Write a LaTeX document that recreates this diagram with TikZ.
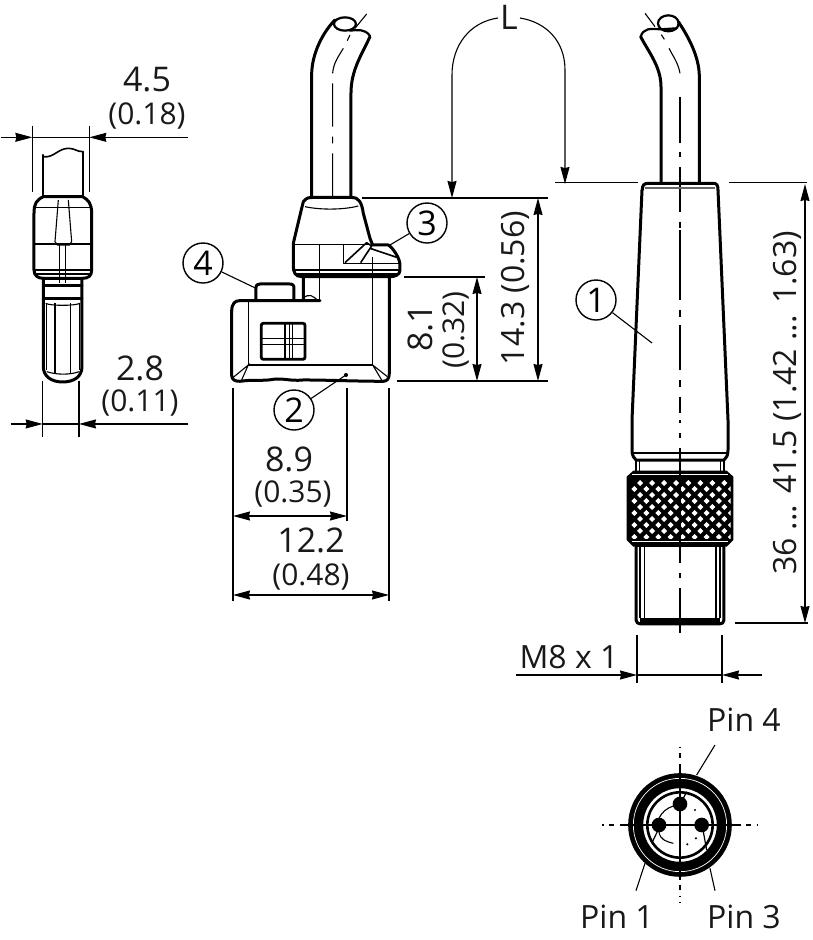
\documentclass[tikz,border=0pt]{standalone}
\usepackage{fontspec}
\setmainfont{Open Sans}
\usetikzlibrary{arrows.meta,calc}
\tikzset{
 thick line/.style={line width=3pt,line join=round,line cap=round},
 mid line/.style={line width=1.6pt,line join=round},
 thin line/.style={line width=1.1pt},
 dimline/.style={line width=1.1pt},
 dimarrow/.style={line width=1.1pt,-{Stealth[length=17pt,width=9pt,inset=1pt]}},
 bothtips/.style={line width=1.1pt,{Stealth[length=17pt,width=9pt,inset=1pt]}-{Stealth[length=17pt,width=9pt,inset=1pt]}},
 big/.style={font=\fontsize{34}{36}\selectfont,inner sep=0pt,text=black!90},
 small/.style={font=\fontsize{30}{32}\selectfont,inner sep=0pt,text=black!90},
 label/.style={font=\fontsize{32}{34}\selectfont,inner sep=0pt,text=black!90},
 callout/.style={circle,draw,line width=1.4pt,minimum size=40pt,inner sep=0pt,font=\fontsize{34}{34}\selectfont},
 zoomA/.style={shift={(0pt,-60pt)},x=0.3333pt,y=-0.3333pt},
 zoomB/.style={shift={(170pt,0pt)},x=0.3333pt,y=-0.3333pt},
 zoomC/.style={shift={(600pt,0pt)},x=0.3333pt,y=-0.3333pt},
 zoomD/.style={shift={(600pt,-420pt)},x=0.3333pt,y=-0.3333pt},
 zoomE/.style={shift={(570pt,-700pt)},x=0.3333pt,y=-0.3333pt},
}
\begin{document}
\begin{tikzpicture}[x=1pt,y=-1pt]
\useasboundingbox (0,0) rectangle (813,940);
% ---------- left view
\begin{scope}[zoomA]
\draw[thick line,line width=2.2pt] (130,285)--(130,410) (248,275)--(248,410);
\draw[mid line] (130,290) .. controls (160,295) and (175,265) .. (205,265) .. controls (225,265) and (230,275) .. (248,275);
\draw[thick line] (130,410) .. controls (110,420) and (102,430) .. (102,460) -- (102,630) .. controls (102,648) and (115,655) .. (130,655) -- (248,655) .. controls (265,655) and (275,648) .. (275,630) -- (275,460) .. controls (275,430) and (265,420) .. (248,410) -- cycle;
\draw[thin line] (102,442)--(275,442) (102,552)--(275,552);
\draw[mid line] (102,630)--(275,630) (102,642)--(275,642);
\draw[thin line] (175,420)--(165,545) -- (172,555) -- (208,555) -- (215,545) -- (205,420);
\draw[thin line] (178,555)--(178,670) (197,555)--(197,670);
\draw[thick line] (130,655)--(130,920) .. controls (130,950) and (155,966) .. (188,966) .. controls (222,966) and (246,950) .. (246,920) -- (246,655);
\draw[thick line] (130,676)--(246,676) (130,715)--(246,715);
\draw[thin line] (137,730) .. controls (150,738) and (225,738) .. (240,730);
\draw[thin line] (140,730)--(140,930) (165,730)--(165,940) (212,730)--(212,940) (238,730)--(238,930);
\draw[thin line] (140,935) .. controls (170,945) and (210,945) .. (238,935);
\coordinate (a1) at (97,232); \coordinate (a2) at (268,232);
\coordinate (a1s) at (3,232); \coordinate (a2s) at (565,232);
\coordinate (a1t) at (97,197); \coordinate (a1b) at (97,397);
\coordinate (a2t) at (268,197); \coordinate (a2b) at (268,397);
\coordinate (b1) at (128,1092); \coordinate (b2) at (237,1092);
\coordinate (b1s) at (32,1092); \coordinate (b2s) at (565,1092);
\coordinate (b1t) at (128,962); \coordinate (b1b) at (128,1130);
\coordinate (b2t) at (237,962); \coordinate (b2b) at (237,1130);
\end{scope}
\draw[dimline] (a1t)--(a1b) (a2t)--(a2b) (b1t)--(b1b) (b2t)--(b2b) (a1)--(a2) (b1)--(b2);
\draw[dimarrow] (a1s)--(a1); \draw[dimarrow] (a2s)--(a2);
\draw[dimarrow] (b1s)--(b1); \draw[dimarrow] (b2s)--(b2);
\node[big] (t45) at (147,80) {4.5};
\node[small] (t018) at (147,116) {(0.18)};
\node[big] (t28) at (140,368) {2.8};
\node[small] (t011) at (140,403) {(0.11)};
% ---------- middle view
\begin{scope}[zoomB]
\draw[thick line] (425,590)--(425,225) .. controls (425,160) and (460,95) .. (495,60);
\draw[thick line] (543,590)--(543,280) .. controls (543,210) and (575,165) .. (600,110);
\draw[mid line,line width=2.2pt] (525,72) ellipse [x radius=33,y radius=20];
\draw[thick line,line width=2.2pt] (540,92) .. controls (560,90) and (585,85) .. (600,108);
\draw[thin line] (555,85)--(590,42);
\draw[line width=1.1pt] (488,250)--(488,380) (488,410)--(488,430) (488,460)--(488,590) (488,220) .. controls (490,190) and (505,170) .. (520,145) (532,122)--(540,105);
\draw[thick line] (400,605) .. controls (410,592) and (420,592) .. (430,592) -- (545,592) .. controls (565,592) and (575,605) .. (580,640) -- (600,715) -- (608,735) -- (655,735) .. controls (670,745) and (690,775) .. (690,795) -- (690,810) .. controls (690,825) and (675,830) .. (660,830) -- (395,830) .. controls (375,830) and (370,815) .. (370,800) -- (370,730) -- (395,625) -- cycle;
\draw[thin line] (405,620) .. controls (450,630) and (520,630) .. (565,618);
\draw[mid line] (370,733)--(600,733);
\draw[mid line] (375,810)--(688,810) (380,822)--(688,822);
\draw[mid line] (448,733)--(448,905);
\draw[mid line] (520,735)--(520,790)--(690,790);
\draw[mid line] (525,788)--(590,728)--(605,738)--(572,788);
\draw[mid line] (600,745)--(680,772);
\draw[thin line] (608,770)--(608,1095);
% lower body
\draw[thick line] (400,830)--(400,900) (185,935) .. controls (185,910) and (195,902) .. (210,902) -- (450,902);
\draw[thick line] (185,935)--(185,1125) .. controls (185,1140) and (195,1144) .. (210,1144) .. controls (250,1138) and (280,1144) .. (310,1138) .. controls (340,1134) and (360,1144) .. (400,1140) .. controls (470,1140) and (560,1144) .. (640,1144) .. controls (652,1144) and (658,1135) .. (658,1120) -- (658,830);
\draw[thin line] (235,905)--(235,1095)--(608,1095);
\draw[thin line] (190,1132)--(235,1095)--(215,1140) (608,1095)--(635,1140) (608,1095)--(652,1130);
\draw[thick line] (258,900)--(258,865) .. controls (258,855) and (262,852) .. (270,852) -- (358,852) .. controls (368,852) and (372,855) .. (372,865) -- (372,900);
\draw[thin line] (400,895) .. controls (415,880) and (430,885) .. (445,905);
\draw[line width=2.8pt,rounded corners=2pt] (274,970) rectangle (405,1078);
\draw[line width=1.5pt] (274,1016)--(405,1016);
\draw[line width=1.5pt] (274,1033)--(405,1033);
\draw[line width=1.5pt] (345,970)--(345,1078) (358,970)--(358,1078) (368,970)--(368,1078);
\fill (528,1125) circle (6);
\coordinate (c4) at (258,865);
\coordinate (c3a) at (660,735);
\coordinate (c2) at (528,1125);
\end{scope}
\coordinate (c1) at (652,343);
\node[callout] (n4) at (203,263) {4};
\node[callout] (n3) at (427,223) {3};
\node[callout] (n2) at (294,410) {2};
\node[callout] (n1) at (596,300) {1};
\draw[thin line] (n4)--(c4);
\draw[thin line] (n3)--(c3a);
\draw[thin line] (n2)--(c2);
\draw[thin line] (n1)--(c1);
% dims mid
\coordinate (d1) at (362,198); \coordinate (d1e) at (548,198);
\coordinate (d2) at (404,277); \coordinate (d2e) at (485,277);
\coordinate (d3) at (397,381); \coordinate (d3e) at (548,381);
\draw[dimline] (d1)--(d1e) (d2)--(d2e) (d3)--(d3e);
\coordinate (e1) at (477,277); \coordinate (e2) at (477,381);
\coordinate (f1) at (538,198); \coordinate (f2) at (538,381);
\draw[bothtips] (e1)--(e2);
\draw[bothtips] (f1)--(f2);
\node[big,rotate=90] (t81) at (420,328) {8.1};
\node[small,rotate=90] (t032) at (456,330) {(0.32)};
\node[label,rotate=90] (t143) at (515,288) {14.3 (0.56)};
\coordinate (g1) at (233,516); \coordinate (g2) at (347,516);
\coordinate (h1) at (233,595); \coordinate (h2) at (389,595);
\draw[dimline] (233,388)--(233,601) (347,388)--(347,521) (389,388)--(389,601);
\draw[bothtips] (g1)--(g2);
\draw[bothtips] (h1)--(h2);
\node[big] (t89) at (289,459) {8.9};
\node[small] (t035) at (293,494) {(0.35)};
\node[big] (t122) at (311,540) {12.2};
\node[small] (t048) at (311,577) {(0.48)};
% L
\node[big] (tL) at (509,17) {L};
\coordinate (L1) at (452,198); \coordinate (L2) at (565,184);
\draw[dimarrow] (tL.west) ++(-2,1) .. controls (470,22) and (452,45) .. (452,75) -- (L1);
\draw[dimarrow] (tL.east) ++(2,1) .. controls (545,22) and (565,40) .. (565,70) -- (L2);
% ---------- right view
\begin{scope}[zoomC]
\draw[thick line] (183,548)--(183,260) .. controls (183,200) and (145,155) .. (122,110);
\draw[thick line] (298,548)--(298,230) .. controls (298,170) and (265,110) .. (235,65);
\draw[mid line,line width=2.2pt] (205,70) ellipse [x radius=31,y radius=24];
\draw[thick line,line width=2.2pt] (122,110) .. controls (130,85) and (150,85) .. (180,88) -- (230,85);
\draw[thin line] (165,80)--(135,40);
\draw[line width=1.1pt] (240,220) .. controls (235,190) and (220,170) .. (207,145) (193,118)--(184,104);
\draw[line width=1.1pt] (240,292)--(240,428) (240,455)--(240,472) (240,502)--(240,636) (240,665)--(240,685) (240,712)--(240,848) (240,878)--(240,892);
\draw[thick line] (127,570) .. controls (127,555) and (132,550) .. (145,550) -- (340,550) .. controls (350,550) and (354,555) .. (354,570);
\draw[thin line,black!60] (135,564)--(345,564);
\draw[dimline] (-135,548)--(115,548) (387,548)--(620,548);
\end{scope}
\begin{scope}[zoomD]
\draw[line width=1.1pt] (240,-570)--(240,-520) (240,-490)--(240,-360) (240,-330)--(240,-310) (240,-285)--(240,-150) (240,-120)--(240,-100) (240,-70)--(240,-20) (240,0)--(240,10) (240,40)--(240,55) (240,85)--(240,430);
\end{scope}
\draw[thick line] (642,190)--(632,420)--(632,450) .. controls (632,456) and (634,458) .. (636,460) -- (724,460) .. controls (726,458) and (728,456) .. (728,450) -- (728,420) -- (718,190);
\draw[mid line] (632,453)--(728,453);
\begin{scope}[zoomD]
\draw[mid line] (108,120)--(108,155) (118,120)--(118,155) (362,120)--(362,155) (372,120)--(372,155);
\draw[mid line] (108,122)--(372,122);
% knurl
\fill[black] (100,152) -- (380,152) -- (400,170) -- (400,360) -- (380,380) -- (100,380) -- (80,360) -- (80,170) -- cycle;
\begin{scope}
\clip (92,178) rectangle (392,356);
\foreach \r in {0,2,4,6,8}{
 \foreach \c in {0,...,8}{
  \fill[white] ({120+\c*36.2},{189+\r*18-9}) -- ++(9,9) -- ++(-9,9) -- ++(-9,-9) -- cycle;
  \fill[white] ({103+\c*36.2},{207+\r*18-9}) -- ++(9,9) -- ++(-9,9) -- ++(-9,-9) -- cycle;
 }
}
\end{scope}
\draw[white,line width=0.7pt] (95,364)--(385,364) (95,163)--(385,163);
\draw[line width=1.1pt,black] (240,85)--(240,380);
% lower
\draw[thick line] (108,372)--(108,600) .. controls (108,608) and (115,612) .. (122,612) -- (358,612) .. controls (366,612) and (372,608) .. (372,600) -- (372,372);
\draw[mid line] (120,380)--(120,595) (133,380)--(133,595) (348,380)--(348,595) (360,380)--(360,595);
\draw[line width=5pt] (120,603)--(360,603);
\draw[mid line] (108,380)--(372,380);
\draw[line width=1.1pt] (240,380)--(240,430) (240,460)--(240,475) (240,505)--(240,640);
\end{scope}
% right dims
\coordinate (k1) at (805,184); \coordinate (k2) at (805,623);
\draw[dimline] (735,623)--(808,623);
\draw[bothtips] (k1)--(k2);
\node[label,rotate=90] (t36) at (787,403) {36 ... 41.5 (1.42 ... 1.63)};
\coordinate (m1) at (637,675); \coordinate (m2) at (722,675);
\coordinate (m1s) at (516,675); \coordinate (m2s) at (762,675);
\draw[dimline] (637,635)--(637,683) (722,635)--(722,683) (m1)--(m2);
\draw[dimarrow] (m1s)--(m1); \draw[dimarrow] (m2s)--(m2);
\node[label] (tm8) at (569,657) {M8 x 1};
% ---------- pin face
\begin{scope}[zoomE]
\draw[line width=15pt,black] (330,375) circle (133);
\draw[white,line width=0.7pt] (330,375) circle (140);
\draw[line width=2.6pt] (330,375) circle (98);
\draw[line width=1.2pt] (150,375)--(510,375) (330,195)--(330,535);
\draw[line width=1.2pt,dash pattern=on 1.5pt off 5pt on 5pt off 6pt] (97,375)--(150,375) (510,375)--(565,375) (330,140)--(330,195) (330,535)--(330,610);
\draw[line width=1.1pt] (265,360) .. controls (275,335) and (290,325) .. (310,318);
\draw[line width=1.1pt] (267,395) .. controls (270,420) and (290,425) .. (310,430);
\fill (375,330) circle (3.5) (378,415) circle (3.5) (352,433) circle (3.5);
\fill (330,312) circle (22) (267,375) circle (22) (395,375) circle (22);
\coordinate (p4a) at (435,135); \coordinate (p4b) at (380,225);
\coordinate (p1a) at (198,572); \coordinate (p1b) at (225,490);
\coordinate (p3a) at (435,572); \coordinate (p3b) at (420,505);
\draw[line width=1.2pt] (245,430)--(262,395) (410,450)--(400,395) (350,275)--(340,295);
\end{scope}
\draw[thin line] (p4a)--(p4b) (p1a)--(p1b) (p3a)--(p3b);
\node[label] (tp4) at (744,720) {Pin 4};
\node[label] (tp1) at (617,917) {Pin 1};
\node[label] (tp3) at (744,917) {Pin 3};
\end{tikzpicture}
\end{document}
